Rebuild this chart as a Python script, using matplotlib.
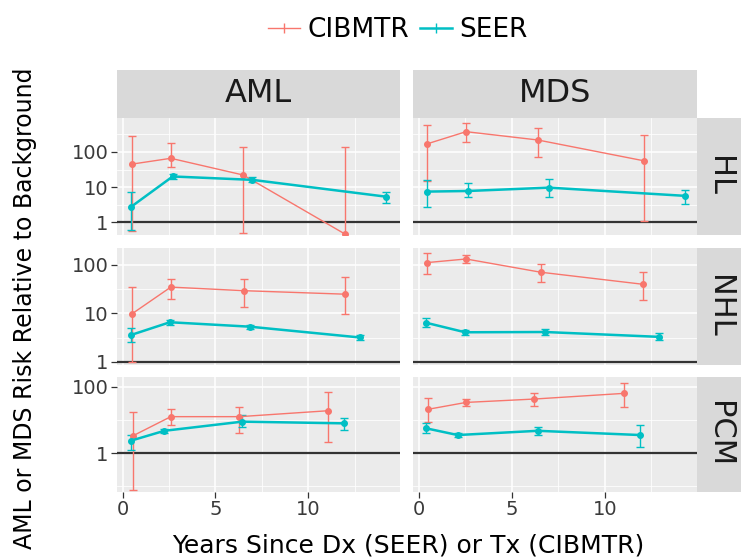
import matplotlib
matplotlib.use("Agg")
import matplotlib.pyplot as plt
from matplotlib.lines import Line2D
from matplotlib.ticker import FixedLocator, NullFormatter

plt.rcParams['font.family'] = ['DejaVu Sans']

RED = '#F8766D'
TEAL = '#00BFC4'

cols = ['AML', 'MDS']
rows = ['HL', 'NHL', 'PCM']
sources = ['CIBMTR', 'SEER']

# ---- data: x (years), y (relative risk), lo / hi (interval) ----
aml_hl_cib_x = [0.5, 2.6, 6.5, 12.0]
aml_hl_cib_y = [45, 66, 22, 0.45]
aml_hl_cib_lo = [0.55, 37, 0.49, 0.3]
aml_hl_cib_hi = [290, 180, 138, 138]
aml_hl_seer_x = [0.45, 2.7, 7.0, 14.2]
aml_hl_seer_y = [2.7, 20, 16, 5.3]
aml_hl_seer_lo = [0.6, 17, 13.5, 3.6]
aml_hl_seer_hi = [7.4, 24, 19, 7.4]

mds_hl_cib_x = [0.45, 2.55, 6.4, 12.1]
mds_hl_cib_y = [170, 380, 220, 56]
mds_hl_cib_lo = [15, 195, 74, 1.1]
mds_hl_cib_hi = [600, 650, 475, 310]
mds_hl_seer_x = [0.45, 2.65, 7.0, 14.3]
mds_hl_seer_y = [7.4, 7.7, 9.6, 5.6]
mds_hl_seer_lo = [2.7, 5.1, 5.3, 3.3]
mds_hl_seer_hi = [15.8, 12.8, 16.6, 8.2]

aml_nhl_cib_x = [0.5, 2.6, 6.55, 12.0]
aml_nhl_cib_y = [9.8, 35, 29.5, 25]
aml_nhl_cib_lo = [1.0, 19.6, 13.8, 9.8]
aml_nhl_cib_hi = [36, 51, 51, 56]
aml_nhl_seer_x = [0.45, 2.55, 6.85, 12.8]
aml_nhl_seer_y = [3.6, 6.6, 5.35, 3.2]
aml_nhl_seer_lo = [2.6, 5.8, 4.8, 2.8]
aml_nhl_seer_hi = [4.95, 7.4, 5.9, 3.6]

mds_nhl_cib_x = [0.45, 2.55, 6.55, 12.05]
mds_nhl_cib_y = [112, 133, 71, 40]
mds_nhl_cib_lo = [65, 112, 45, 19]
mds_nhl_cib_hi = [174, 160, 105, 71]
mds_nhl_seer_x = [0.4, 2.5, 6.8, 12.9]
mds_nhl_seer_y = [6.45, 4.1, 4.15, 3.3]
mds_nhl_seer_lo = [5.2, 3.6, 3.6, 2.85]
mds_nhl_seer_hi = [7.9, 4.6, 4.8, 3.9]

aml_pcm_cib_x = [0.55, 2.6, 6.3, 11.05]
aml_pcm_cib_y = [3.3, 12.6, 12.6, 19]
aml_pcm_cib_lo = [0.076, 7.1, 4.1, 2.2]
aml_pcm_cib_hi = [17.8, 21, 25, 72]
aml_pcm_seer_x = [0.45, 2.25, 6.45, 11.95]
aml_pcm_seer_y = [2.36, 4.7, 8.9, 7.9]
aml_pcm_seer_lo = [1.23, 4.1, 6.3, 5.0]
aml_pcm_seer_hi = [3.5, 5.4, 14, 11.2]

mds_pcm_cib_x = [0.5, 2.55, 6.2, 11.05]
mds_pcm_cib_y = [21, 34, 43, 64]
mds_pcm_cib_lo = [8.9, 26.5, 26.5, 25]
mds_pcm_cib_hi = [45, 42, 64, 135]
mds_pcm_seer_x = [0.4, 2.1, 6.4, 11.9]
mds_pcm_seer_y = [5.6, 3.5, 4.7, 3.5]
mds_pcm_seer_lo = [3.95, 3.1, 3.5, 1.5]
mds_pcm_seer_hi = [7.9, 4.0, 6.3, 7.1]

x_ticks = [0, 5, 10]
x_tick_labels = ['0', '5', '10']
row_yticks = {'HL': [1, 10, 100], 'NHL': [1, 10, 100], 'PCM': [1, 100]}
row_yminor = {'HL': [0.316, 3.16, 31.6, 316], 'NHL': [3.16, 31.6], 'PCM': [0.1, 10]}
row_ylim = {'HL': (0.427, 933), 'NHL': (0.867, 224), 'PCM': (0.066, 200)}

series = {
    ('AML', 'HL'): [(aml_hl_cib_x, aml_hl_cib_y, aml_hl_cib_lo, aml_hl_cib_hi),
                    (aml_hl_seer_x, aml_hl_seer_y, aml_hl_seer_lo, aml_hl_seer_hi)],
    ('MDS', 'HL'): [(mds_hl_cib_x, mds_hl_cib_y, mds_hl_cib_lo, mds_hl_cib_hi),
                    (mds_hl_seer_x, mds_hl_seer_y, mds_hl_seer_lo, mds_hl_seer_hi)],
    ('AML', 'NHL'): [(aml_nhl_cib_x, aml_nhl_cib_y, aml_nhl_cib_lo, aml_nhl_cib_hi),
                     (aml_nhl_seer_x, aml_nhl_seer_y, aml_nhl_seer_lo, aml_nhl_seer_hi)],
    ('MDS', 'NHL'): [(mds_nhl_cib_x, mds_nhl_cib_y, mds_nhl_cib_lo, mds_nhl_cib_hi),
                     (mds_nhl_seer_x, mds_nhl_seer_y, mds_nhl_seer_lo, mds_nhl_seer_hi)],
    ('AML', 'PCM'): [(aml_pcm_cib_x, aml_pcm_cib_y, aml_pcm_cib_lo, aml_pcm_cib_hi),
                     (aml_pcm_seer_x, aml_pcm_seer_y, aml_pcm_seer_lo, aml_pcm_seer_hi)],
    ('MDS', 'PCM'): [(mds_pcm_cib_x, mds_pcm_cib_y, mds_pcm_cib_lo, mds_pcm_cib_hi),
                     (mds_pcm_seer_x, mds_pcm_seer_y, mds_pcm_seer_lo, mds_pcm_seer_hi)],
}
styles = [dict(color=RED, lw=1.0), dict(color=TEAL, lw=1.8)]

W, H = 745, 560
fig = plt.figure(figsize=(W / 100, H / 100), dpi=100)

col_px = [(117, 400), (413, 697)]
row_px = [(118, 235), (248, 365), (377, 492)]

def fx(px):
    return px / W

def fy(py):
    return 1 - py / H

TICKC = '#333333'
LABC = '#3A3A3A'

for ci, cname in enumerate(cols):
    x0, x1 = col_px[ci]
    # top strip
    sax = fig.add_axes([fx(x0), fy(118), fx(x1) - fx(x0), fy(70) - fy(118)])
    sax.set_facecolor('#D9D9D9')
    sax.set_xticks([]); sax.set_yticks([])
    for s in sax.spines.values():
        s.set_visible(False)
    sax.text(0.5, 0.5, cname, ha='center', va='center', fontsize=23, color='#1A1A1A',
             transform=sax.transAxes)
    for ri, rname in enumerate(rows):
        y0, y1 = row_px[ri]
        ax = fig.add_axes([fx(x0), fy(y1), fx(x1) - fx(x0), fy(y0) - fy(y1)])
        ax.set_facecolor('#EBEBEB')
        for s in ax.spines.values():
            s.set_visible(False)
        ax.set_yscale('log')
        ax.set_xlim(-0.3, 14.95)
        ax.set_ylim(*row_ylim[rname])
        ax.yaxis.set_major_locator(FixedLocator(row_yticks[rname]))
        ax.yaxis.set_minor_locator(FixedLocator(row_yminor[rname]))
        ax.yaxis.set_minor_formatter(NullFormatter())
        ax.set_xticks(x_ticks)
        ax.set_xticks([2.5, 7.5, 12.5], minor=True)
        ax.grid(True, which='major', color='white', lw=1.1)
        ax.grid(True, which='minor', color='white', lw=0.55)
        ax.set_axisbelow(True)
        ax.tick_params(which='minor', length=0)
        ax.tick_params(which='major', length=4, width=0.9, color=TICKC, labelcolor=LABC,
                       labelsize=14, pad=2)
        if ci == 0:
            ax.set_yticklabels([str(v) for v in row_yticks[rname]])
        else:
            ax.tick_params(axis='y', which='major', length=0, labelleft=False)
        if ri == 2:
            ax.set_xticklabels(x_tick_labels)
        else:
            ax.tick_params(axis='x', which='major', length=0, labelbottom=False)
        ax.axhline(1, color='#333333', lw=1.6, zorder=1.5)
        for (xs, ys, lo, hi), st in zip(series[(cname, rname)], styles):
            yerr = [[y - l for y, l in zip(ys, lo)], [h - y for y, h in zip(ys, hi)]]
            ax.errorbar(xs, ys, yerr=yerr, color=st['color'], lw=st['lw'],
                        elinewidth=1.0, capsize=3, capthick=1.0,
                        marker='o', markersize=4, zorder=3)
        if ci == 1:
            rax = fig.add_axes([fx(697), fy(y1), fx(741) - fx(697), fy(y0) - fy(y1)])
            rax.set_facecolor('#D9D9D9')
            rax.set_xticks([]); rax.set_yticks([])
            for s in rax.spines.values():
                s.set_visible(False)
            rax.text(0.5, 0.5, rname, ha='center', va='center', rotation=-90,
                     fontsize=22, color='#1A1A1A', transform=rax.transAxes)

fig.text(fx(408), fy(546), 'Years Since Dx (SEER) or Tx (CIBMTR)', ha='center', va='center',
         fontsize=18, color='#000000')
fig.text(fx(25), fy(308), 'AML or MDS Risk Relative to Background', ha='center', va='center',
         rotation=90, fontsize=17, color='#000000')

handles = [Line2D([], [], color=RED, lw=1.0, marker='|', markersize=7, markeredgewidth=1.0),
           Line2D([], [], color=TEAL, lw=1.8, marker='|', markersize=7, markeredgewidth=1.0)]
fig.legend(handles, sources, loc='center', bbox_to_anchor=(fx(398), fy(30)), ncol=2,
           frameon=False, fontsize=19, handlelength=1.2, handletextpad=0.3, columnspacing=0.4)

fig.savefig('out.png', dpi=100)
